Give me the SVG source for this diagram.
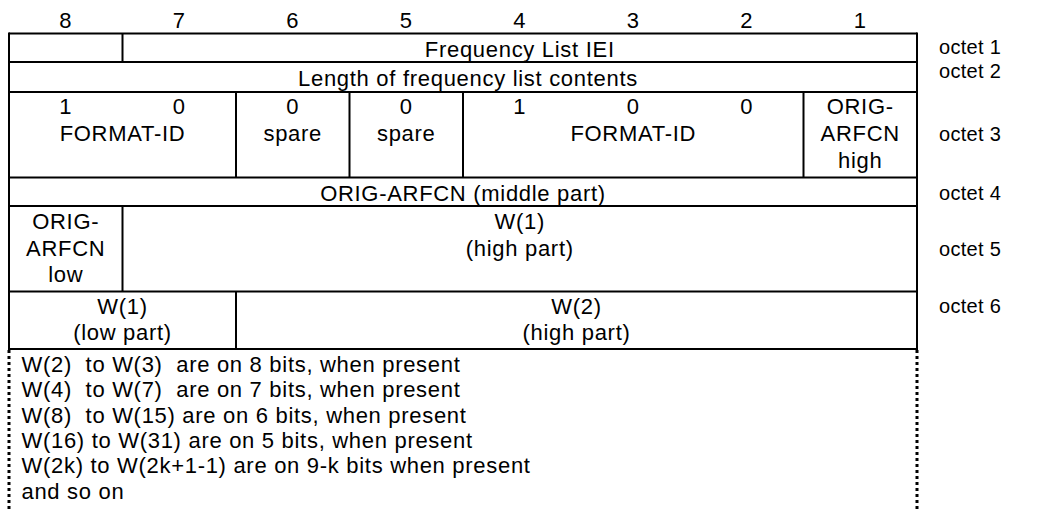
<svg xmlns="http://www.w3.org/2000/svg" width="1053" height="511" viewBox="0 0 1053 511">
<style>
text{font-family:"Liberation Sans",Arial,sans-serif;font-size:22px;fill:#000;letter-spacing:0.7px}
.c{text-anchor:middle}
.oct{font-size:20px;letter-spacing:0.3px}
.ln{stroke:#000;stroke-width:2;fill:none}
.dash{stroke:#000;stroke-width:3;fill:none;stroke-dasharray:3 3}
</style>
<rect width="1053" height="511" fill="#fff"/>
<g id="bit-numbers">
<text class="c" x="65.75" y="28">8</text>
<text class="c" x="179.25" y="28">7</text>
<text class="c" x="292.75" y="28">6</text>
<text class="c" x="406.25" y="28">5</text>
<text class="c" x="519.75" y="28">4</text>
<text class="c" x="633.25" y="28">3</text>
<text class="c" x="746.75" y="28">2</text>
<text class="c" x="860.25" y="28">1</text>
</g>
<g id="connectors">
<path class="ln" d="M9 33.5H917M9 62H917M9 92H917M9 177.5H917M9 206H917M9 291.5H917M9 349H917"/>
<path class="ln" d="M9 32.5V350M917 32.5V350"/>
<path class="ln" d="M122.5 33.5V62M236 92V177.5M349.5 92V177.5M463 92V177.5M803.5 92V177.5M122.5 206V291.5M236 291.5V349"/>
<path class="dash" d="M9 350V511M917 350V511"/>
</g>
<g id="octet1">
<text class="c" x="519.75" y="57">Frequency List IEI</text>
</g>
<g id="octet2">
<text class="c" x="468" y="86">Length of frequency list contents</text>
</g>
<g id="octet3">
<text class="c" x="65.75" y="113.5">1</text>
<text class="c" x="179.25" y="113.5">0</text>
<text class="c" x="122.5" y="141">FORMAT-ID</text>
<text class="c" x="292.75" y="113.5">0</text>
<text class="c" x="292.75" y="141">spare</text>
<text class="c" x="406.25" y="113.5">0</text>
<text class="c" x="406.25" y="141">spare</text>
<text class="c" x="519.75" y="113.5">1</text>
<text class="c" x="633.25" y="113.5">0</text>
<text class="c" x="746.75" y="113.5">0</text>
<text class="c" x="633.25" y="141">FORMAT-ID</text>
<text class="c" x="860.25" y="113.5">ORIG-</text>
<text class="c" x="860.25" y="141">ARFCN</text>
<text class="c" x="860.25" y="167.5">high</text>
</g>
<g id="octet4">
<text class="c" x="463" y="200.5">ORIG-ARFCN (middle part)</text>
</g>
<g id="octet5">
<text class="c" x="65.75" y="229">ORIG-</text>
<text class="c" x="65.75" y="255.5">ARFCN</text>
<text class="c" x="65.75" y="282">low</text>
<text class="c" x="519.75" y="229">W(1)</text>
<text class="c" x="519.75" y="255.5">(high part)</text>
</g>
<g id="octet6">
<text class="c" x="122.5" y="313.5">W(1)</text>
<text class="c" x="122.5" y="340">(low part)</text>
<text class="c" x="576.5" y="313.5">W(2)</text>
<text class="c" x="576.5" y="340">(high part)</text>
</g>
<g id="rest">
<text x="21.5" y="372" xml:space="preserve">W(2)  to W(3)  are on 8 bits, when present</text>
<text x="21.5" y="397" xml:space="preserve">W(4)  to W(7)  are on 7 bits, when present</text>
<text x="21.5" y="423" xml:space="preserve">W(8)  to W(15) are on 6 bits, when present</text>
<text x="21.5" y="448" xml:space="preserve">W(16) to W(31) are on 5 bits, when present</text>
<text x="21.5" y="473" xml:space="preserve">W(2k) to W(2k+1-1) are on 9-k bits when present</text>
<text x="21.5" y="499">and so on</text>
</g>
<g id="octet-labels">
<text class="oct" x="939" y="54">octet 1</text>
<text class="oct" x="939" y="78">octet 2</text>
<text class="oct" x="939" y="141">octet 3</text>
<text class="oct" x="939" y="200">octet 4</text>
<text class="oct" x="939" y="256">octet 5</text>
<text class="oct" x="939" y="313">octet 6</text>
</g>
</svg>
